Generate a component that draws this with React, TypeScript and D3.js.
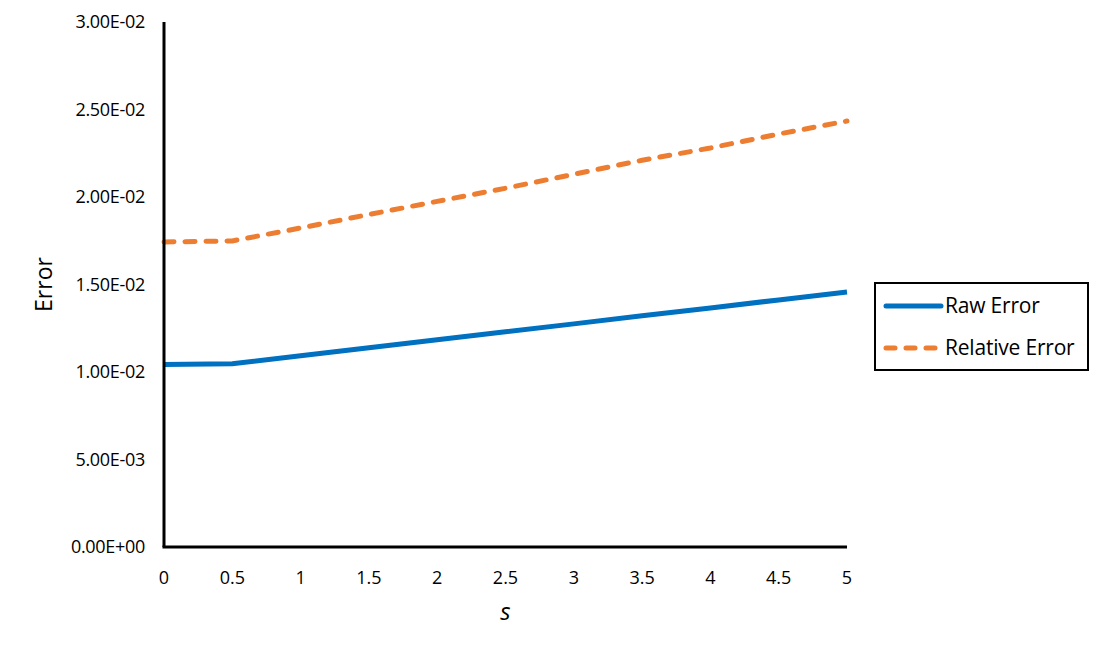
import React, { useRef, useEffect } from 'react';
import * as d3 from 'd3';

const sValues = [0, 0.5, 1, 1.5, 2, 2.5, 3, 3.5, 4, 4.5, 5];
const rawError = [0.01043, 0.01047, 0.01093, 0.01138, 0.01184, 0.0123, 0.01275, 0.01321, 0.01366, 0.01412, 0.01457];
const relativeError = [0.01743, 0.01749, 0.01823, 0.019, 0.01975, 0.0205, 0.0213, 0.0221, 0.0228, 0.0236, 0.02434];
const xTicks = [0, 0.5, 1, 1.5, 2, 2.5, 3, 3.5, 4, 4.5, 5];
const yTicks = [0, 0.005, 0.01, 0.015, 0.02, 0.025, 0.03];

const series = [
  { name: 'Raw Error', values: rawError, color: '#0070c0', dash: null },
  { name: 'Relative Error', values: relativeError, color: '#ed7d31', dash: '10,11' },
];

const fmtExp = (v: number) => {
  const s = v.toExponential(2).toUpperCase();
  // 1.50E-2 -> 1.50E-02
  return s.replace(/E([+-])(\d)$/, 'E$10$2');
};

const App = () => {
  const svgRef = useRef<SVGSVGElement>(null);

  useEffect(() => {
    const width = 1100;
    const height = 655;
    const margin = { top: 22, right: 253, bottom: 108, left: 164 };
    const font = 'Open Sans, sans-serif';

    const svg = d3.select(svgRef.current)
      .attr('width', width)
      .attr('height', height)
      .style('position', 'absolute')
      .style('left', 0)
      .style('top', 0);

    svg.selectAll('*').remove();

    const x = d3.scaleLinear().domain([0, 5]).range([margin.left, width - margin.right]);
    const y = d3.scaleLinear().domain([0, 0.03]).range([height - margin.bottom, margin.top]);

    // Lines
    const line = d3.line<number>()
      .x((_, i) => x(sValues[i]))
      .y(d => y(d));

    series.forEach(s => {
      svg.append('path')
        .datum(s.values)
        .attr('d', line)
        .attr('fill', 'none')
        .attr('stroke', s.color)
        .attr('stroke-width', 5)
        .attr('stroke-linecap', s.dash ? 'round' : 'butt')
        .attr('stroke-dasharray', s.dash);
    });

    // Axes (lines only, labels drawn separately)
    svg.append('line')
      .attr('x1', x(0)).attr('x2', x(0))
      .attr('y1', y(0.03)).attr('y2', y(0))
      .attr('stroke', '#000').attr('stroke-width', 3);
    svg.append('line')
      .attr('x1', x(0) - 1.5).attr('x2', x(5))
      .attr('y1', y(0)).attr('y2', y(0))
      .attr('stroke', '#000').attr('stroke-width', 3);

    // Y tick labels
    svg.selectAll('.ylab')
      .data(yTicks)
      .enter()
      .append('text')
      .attr('class', 'ylab')
      .attr('x', x(0) - 19)
      .attr('y', d => y(d))
      .attr('dy', '0.35em')
      .attr('text-anchor', 'end')
      .style('font-family', font)
      .style('font-size', '18px')
      .style('letter-spacing', '-0.3px')
      .text(d => fmtExp(d));

    // X tick labels
    svg.selectAll('.xlab')
      .data(xTicks)
      .enter()
      .append('text')
      .attr('class', 'xlab')
      .attr('x', d => x(d))
      .attr('y', y(0) + 37)
      .attr('text-anchor', 'middle')
      .style('font-family', font)
      .style('font-size', '18px')
      .text(d => String(d));

    // Axis titles
    svg.append('text')
      .attr('transform', `translate(52,${(y(0) + y(0.03)) / 2}) rotate(-90)`)
      .attr('text-anchor', 'middle')
      .style('font-family', font)
      .style('font-size', '23px')
      .text('Error');

    svg.append('text')
      .attr('x', (x(0) + x(5)) / 2)
      .attr('y', 620)
      .attr('text-anchor', 'middle')
      .style('font-family', font)
      .style('font-size', '24px')
      .style('font-style', 'italic')
      .text('s');

    // Legend
    const lg = svg.append('g').attr('transform', 'translate(875,283)');
    lg.append('rect')
      .attr('width', 213).attr('height', 87)
      .attr('fill', '#fff').attr('stroke', '#000').attr('stroke-width', 2);
    series.forEach((s, i) => {
      const cy = 23 + i * 42;
      lg.append('line')
        .attr('x1', 11).attr('x2', 66)
        .attr('y1', cy).attr('y2', cy)
        .attr('stroke', s.color)
        .attr('stroke-width', 5)
        .attr('stroke-linecap', 'round')
        .attr('stroke-dasharray', s.dash ? '9,11' : null);
      lg.append('text')
        .attr('x', 70)
        .attr('y', cy)
        .attr('dy', '0.35em')
        .style('font-family', font)
        .style('font-size', '21px')
        .style('letter-spacing', '-0.2px')
        .text(s.name);
    });
  }, []);

  return <svg ref={svgRef}></svg>;
};

export default App;
